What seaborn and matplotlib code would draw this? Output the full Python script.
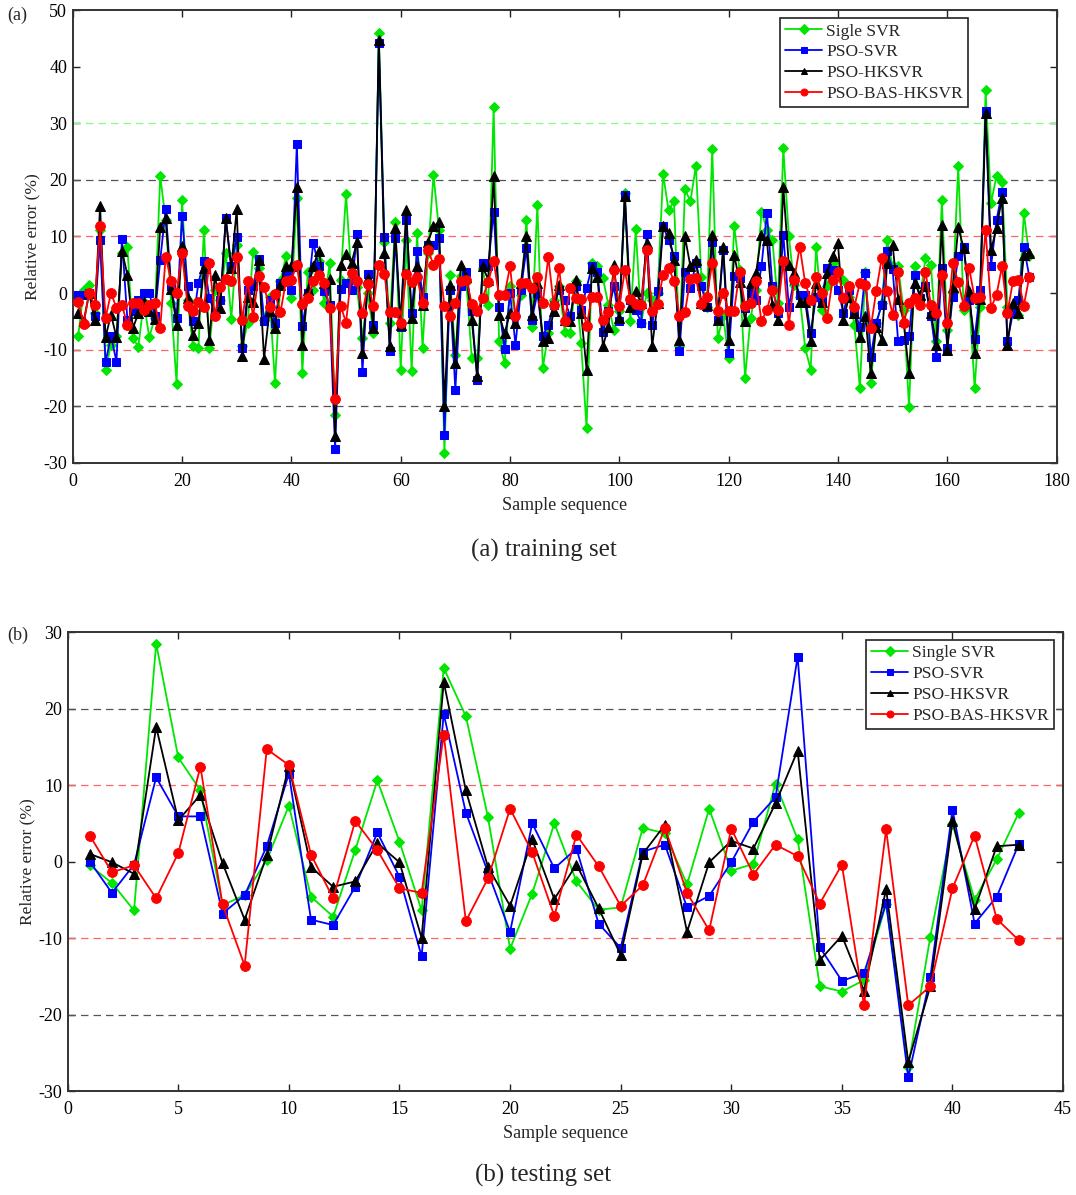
import numpy as np
import pandas as pd
import seaborn as sns
import matplotlib
matplotlib.use("Agg")
import matplotlib.pyplot as plt

# ---- data: training set (175 samples) ----
train_single_svr = [
    -7.6, 0.6, 1.4, -3.5, 11.2, -13.5, -9.1, -7.6, 7.0, 8.2,
    -7.9, -9.5, -1.5, -7.8, -4.4, 20.7, 12.9, -1.8, -16.0, 16.5,
    -1.2, -9.4, -9.7, 11.2, -9.7, 0.6, -1.2, 7.1, -4.6, 8.5,
    -9.4, -5.3, 7.2, 4.4, -4.7, -0.6, -15.9, 2.1, 6.5, -0.9,
    16.8, -14.1, 3.8, 0.6, 5.6, -1.8, 5.3, -21.6, 2.4, 17.5,
    2.6, 1.0, -7.9, 0.0, -7.1, 45.9, 9.1, -5.3, 12.5, -13.5,
    9.4, -13.8, 10.6, -9.7, 7.0, 20.9, 11.2, -28.2, 3.2, -11.0,
    3.0, 2.0, -11.5, -11.5, 4.5, -2.1, 32.8, -8.5, -12.4, 1.2,
    -4.0, -0.3, 12.9, -5.9, 15.6, -13.2, -7.1, -1.2, 1.2, -6.8,
    -7.1, 2.1, -8.8, -23.8, 5.3, 4.7, 2.6, -2.1, -6.5, -3.2,
    17.6, -5.0, 11.3, -5.2, 0.0, -1.2, 0.0, 21.1, 14.6, 16.2,
    -9.4, 18.4, 16.2, 22.5, 2.9, -2.4, 25.5, -7.9, -4.1, -11.5,
    11.9, 4.0, -15.0, -4.4, 0.6, 14.4, 11.2, 9.4, -1.8, 25.6,
    10.0, 1.5, -0.6, -9.7, -13.5, 8.2, -2.9, 1.2, 5.3, 4.1,
    2.4, -0.6, -5.6, -16.8, 3.8, -15.9, -5.3, -1.8, 9.4, 4.7,
    4.7, -3.0, -20.1, 4.7, -1.0, 6.2, 5.0, -8.5, 16.4, -6.5,
    0.0, 22.4, -2.9, -1.0, -16.8, -2.4, 35.8, 15.9, 20.7, 19.7,
    -2.4, -3.0, -3.8, 14.1, 6.5]
train_pso_svr = [
    -0.3, -0.3, 0.0, -4.1, 9.4, -12.2, -7.6, -12.1, 9.5, -4.7,
    -3.2, -1.2, 0.0, 0.1, -4.1, 5.8, 14.8, 1.2, -4.4, 13.6,
    1.2, -5.0, 1.8, 5.6, -0.9, -3.5, -1.2, 13.2, 4.7, 9.9,
    -9.7, 0.6, 1.2, 6.0, -5.0, -1.2, -5.3, 1.8, 3.6, 0.6,
    26.4, -5.8, 0.0, 8.9, 4.7, 0.3, -2.1, -27.5, 0.7, 1.8,
    0.6, 10.4, -14.0, 3.4, -5.6, 44.1, 9.9, -10.3, 9.7, -5.9,
    12.9, -3.5, 7.4, -0.6, 8.5, 8.5, 9.7, -25.0, 0.6, -17.1,
    1.2, 3.8, -3.2, -15.3, 5.3, 4.7, 14.4, -2.4, -9.9, 0.0,
    -9.1, 0.6, 7.9, -4.7, 0.0, -7.5, -5.6, -2.1, 0.6, -1.2,
    -4.1, 1.2, -2.9, 0.9, 4.7, 3.8, -6.8, -3.2, 1.2, -5.0,
    17.4, -1.2, -2.9, -5.3, 10.5, -5.6, 0.3, 11.8, 9.4, 6.5,
    -10.3, 3.8, 0.9, 5.3, 1.3, -2.4, 9.0, -4.7, 7.6, -10.6,
    3.0, 2.6, -2.6, 0.1, -1.2, 4.7, 14.2, 1.2, -3.5, 10.3,
    -2.4, 2.4, -0.3, -0.3, -7.1, -0.6, -1.2, 4.4, 4.1, 0.6,
    -3.5, 0.6, -3.2, -5.9, 3.5, -11.2, -5.3, -2.1, 7.4, 4.2,
    -8.5, -8.2, -7.6, 3.2, -0.9, 1.2, -4.1, -11.3, 4.4, -9.7,
    -0.6, 6.5, 8.2, -1.2, -8.1, 0.6, 32.1, 4.7, 12.9, 17.8,
    -8.5, -3.5, -1.2, 8.2, 2.9]
train_pso_hksvr = [
    -3.6, -5.0, 0.0, -4.7, 15.4, -7.8, -3.8, -7.8, 7.5, 3.2,
    -6.2, -3.6, -1.5, -3.2, -4.6, 11.6, 13.2, 0.7, -5.6, 8.4,
    -0.9, -7.4, -5.3, 4.4, -8.2, 3.2, -2.6, 13.2, 4.4, 14.8,
    -11.1, -0.6, -1.5, 5.9, -11.6, -3.2, -6.2, 1.5, 4.7, 4.7,
    18.8, -9.1, 0.6, 4.7, 7.5, 1.8, 2.5, -25.3, 5.0, 6.9,
    5.3, 9.1, -10.6, 2.6, -6.2, 44.7, 7.1, -9.4, 11.5, -5.6,
    14.7, -4.4, 4.7, -2.1, 9.0, 11.8, 12.5, -19.9, 1.5, -12.4,
    5.0, 2.9, -4.7, -14.7, 4.7, 2.4, 20.6, -3.8, -7.1, -3.5,
    -5.3, 1.8, 10.0, -3.8, 1.8, -8.5, -7.9, -3.2, 1.5, -4.7,
    -5.0, 2.4, -3.5, -13.5, 4.4, 2.9, -9.4, -5.9, 5.0, -4.4,
    17.1, -2.4, 0.3, -1.8, 8.8, -9.4, -1.8, 11.8, 10.6, 5.9,
    -8.2, 10.0, 4.7, 5.9, -1.8, -2.1, 10.3, -4.7, 8.2, -8.2,
    6.8, 2.0, -5.0, 1.8, 3.5, 10.3, 9.3, -2.1, -4.7, 18.7,
    5.0, 3.5, -1.6, -1.5, -8.5, 1.8, -1.5, 3.5, 6.5, 8.8,
    -4.8, -0.6, -3.5, -7.8, -4.1, -14.1, -5.9, -8.2, 5.3, 8.5,
    -1.0, -5.0, -14.1, 1.8, -0.3, 1.2, -3.5, -9.1, 12.1, -10.0,
    1.0, 11.6, 7.9, 0.3, -10.6, -1.0, 31.8, 7.6, 11.5, 16.8,
    -9.1, -1.8, -3.5, 6.8, 7.1]
train_pso_bas_hksvr = [
    -1.5, -5.4, 0.0, -2.1, 11.8, -4.4, 0.0, -2.6, -2.1, -5.6,
    -1.8, -1.8, -2.9, -2.1, -1.8, -6.2, 6.4, 2.2, 0.0, 7.1,
    -2.2, -3.2, -1.5, -2.5, 5.3, -4.0, 1.1, 2.5, 2.1, 6.4,
    -4.8, 2.1, -4.2, 3.1, 1.1, -2.4, -0.1, -3.4, 2.1, 2.4,
    5.0, -1.9, -0.8, 2.1, 3.2, 1.8, -2.6, -18.7, -2.2, -5.2,
    3.6, 2.1, -3.6, 1.6, -2.2, 5.0, 3.4, -3.4, -3.4, -5.3,
    3.4, 1.9, 2.8, -1.8, 7.6, 5.0, 6.0, -2.2, -4.1, -1.8,
    2.1, 2.4, -1.9, -3.2, -0.8, 1.9, 5.6, -0.4, -0.3, 4.7,
    -4.1, 1.8, 1.8, 0.9, 2.9, -1.8, 6.4, -2.1, 4.4, -5.0,
    0.9, -0.9, -1.1, -5.8, -0.6, -0.6, -4.8, -3.4, 4.0, -2.2,
    4.0, -1.1, -1.9, -2.1, 7.7, -3.2, -1.9, 3.2, 4.4, 2.2,
    -4.0, -3.4, 2.5, 2.6, -1.9, -0.6, 5.3, -3.2, 0.1, -3.2,
    -3.1, 3.8, -2.2, -1.8, 2.1, -5.0, -2.9, 0.6, -2.9, 5.6,
    -5.6, 2.4, 8.2, 1.8, -1.2, 2.8, 0.0, -4.4, 2.4, 3.8,
    -0.8, 1.2, -2.4, 1.8, 1.5, -6.1, 0.4, 6.2, 0.4, -3.8,
    3.8, -5.3, -1.8, -0.8, -2.1, 3.8, -2.1, -3.5, 3.2, -5.3,
    5.3, 1.9, -2.2, 4.4, -0.9, -0.6, 11.2, -2.6, -0.3, 4.7,
    -3.5, 2.1, 2.4, -2.2, 2.9]

# ---- data: testing set (43 samples) ----
test_single_svr = [
    -0.5, -2.8, -6.4, 28.5, 13.6, 9.3, -5.7, -4.4, 0.2, 7.3,
    -4.6, -7.2, 1.5, 10.6, 2.6, -6.4, 25.3, 19.0, 5.8, -11.4,
    -4.2, 5.0, -2.6, -6.3, -6.0, 4.4, 3.7, -3.0, 6.9, -1.2,
    -0.3, 10.2, 2.9, -16.3, -17.0, -15.5, -5.5, -26.8, -9.8, 4.9,
    -5.0, 0.3, 6.4]
test_pso_svr = [
    0.0, -4.1, -0.4, 11.0, 5.9, 5.9, -6.8, -4.4, 2.0, 11.5,
    -7.6, -8.3, -3.3, 3.8, -2.0, -12.4, 19.3, 6.4, -1.4, -9.2,
    5.0, -0.9, 1.7, -8.1, -11.3, 1.3, 2.2, -6.0, -4.5, -0.1,
    5.2, 8.4, 26.8, -11.2, -15.6, -14.6, -5.4, -28.2, -15.1, 6.8,
    -8.1, -4.6, 2.3]
test_pso_hksvr = [
    1.0, -0.1, -1.6, 17.6, 5.4, 8.7, -0.2, -7.6, 0.8, 12.5,
    -0.7, -3.3, -2.6, 2.4, -0.1, -10.0, 23.5, 9.3, -0.7, -5.8,
    2.9, -4.9, -0.4, -6.1, -12.2, 1.0, 4.8, -9.2, -0.1, 2.7,
    1.7, 7.6, 14.5, -12.9, -9.7, -16.9, -3.6, -26.2, -16.3, 5.3,
    -6.2, 2.0, 2.2]
test_pso_bas_hksvr = [
    3.4, -1.4, -0.5, -4.8, 1.1, 12.4, -5.6, -13.6, 14.7, 12.6,
    0.9, -4.8, 5.3, 1.5, -3.5, -4.1, 16.6, -7.8, -2.2, 6.9,
    1.2, -7.1, 3.5, -0.6, -5.8, -3.1, 4.4, -4.1, -9.0, 4.3,
    -1.7, 2.2, 0.7, -5.5, -0.4, -18.8, 4.2, -18.8, -16.3, -3.5,
    3.4, -7.5, -10.3]

top_labels = ["Sigle SVR", "PSO-SVR", "PSO-HKSVR", "PSO-BAS-HKSVR"]
bottom_labels = ["Single SVR", "PSO-SVR", "PSO-HKSVR", "PSO-BAS-HKSVR"]

colors = ["#00e600", "#0000ff", "#000000", "#ff0000"]
markers = ["D", "s", "^", "o"]
msizes = [5.5, 5.5, 7, 7]

sns.set_style("ticks")
plt.rcParams["font.family"] = ["Liberation Serif", "DejaVu Serif"]
plt.rcParams["axes.unicode_minus"] = False

fig = plt.figure(figsize=(10.76, 11.95), dpi=100)


def draw_panel(ax, series, labels, xmax, xstep, ymin, ymax, hlines, legend_anchor):
    for (yv, yc) in hlines:
        ax.plot([0, xmax], [yv, yv], color=yc, linestyle=(0, (6, 4)), linewidth=0.9, zorder=1)
    for i, vals in enumerate(series):
        x = np.arange(1, len(vals) + 1)
        df = pd.DataFrame({"x": x, "y": vals})
        sns.lineplot(data=df, x="x", y="y", ax=ax, color=colors[i], marker=markers[i],
                     markersize=msizes[i], markeredgecolor=colors[i], linewidth=1.3,
                     label=labels[i], errorbar=None, sort=False, zorder=2 + i)
    ax.set_xlim(0, xmax)
    ax.set_ylim(ymin, ymax)
    ax.set_xticks(np.arange(0, xmax + 1, xstep))
    ax.set_yticks(np.arange(ymin, ymax + 1, 10))
    ax.tick_params(direction="in", top=True, right=True, length=5, width=1,
                   labelsize=13, colors="#222222", labelcolor="black")
    ax.tick_params(axis="x", pad=7)
    ax.tick_params(axis="y", pad=4)
    for sp in ax.spines.values():
        sp.set_linewidth(1.4)
        sp.set_color("#333333")
    ax.set_xlabel("Sample sequence", fontsize=13, labelpad=5)
    ax.set_ylabel("Relative error (%)", fontsize=12.5, labelpad=2)
    leg = ax.legend(loc="upper right", bbox_to_anchor=legend_anchor, fontsize=12.5,
                    frameon=True, fancybox=False, edgecolor="#222222", framealpha=1,
                    handlelength=2.1, borderpad=0.3, labelspacing=0.27,
                    handletextpad=0.25, borderaxespad=0)
    leg.get_frame().set_linewidth(1.2)
    for h in leg.legend_handles:
        h.set_markersize(5)


train = [train_single_svr, train_pso_svr, train_pso_hksvr, train_pso_bas_hksvr]
test = [test_single_svr, test_pso_svr, test_pso_hksvr, test_pso_bas_hksvr]

ax1 = fig.add_axes([0.0676, 0.6126, 0.9144, 0.3790])
draw_panel(ax1, train, top_labels, 180, 20, -30, 50,
           [(30, "#80ff80"), (20, "#555555"), (-20, "#555555"), (10, "#ff6666"), (-10, "#ff6666")],
           (0.910, 0.982))

ax2 = fig.add_axes([0.0629, 0.0870, 0.9251, 0.3841])
draw_panel(ax2, test, bottom_labels, 45, 5, -30, 30,
           [(20, "#555555"), (-20, "#555555"), (10, "#ff6666"), (-10, "#ff6666")],
           (0.991, 0.983))

fig.text(0.007, 0.987, "(a)", fontsize=13, ha="left", va="center")
fig.text(0.007, 0.468, "(b)", fontsize=13, ha="left", va="center")
fig.text(0.505, 0.539, "(a) training set", fontsize=18, ha="center", va="center")
fig.text(0.505, 0.016, "(b) testing set", fontsize=18, ha="center", va="center")

fig.savefig("out.png", dpi=100)
